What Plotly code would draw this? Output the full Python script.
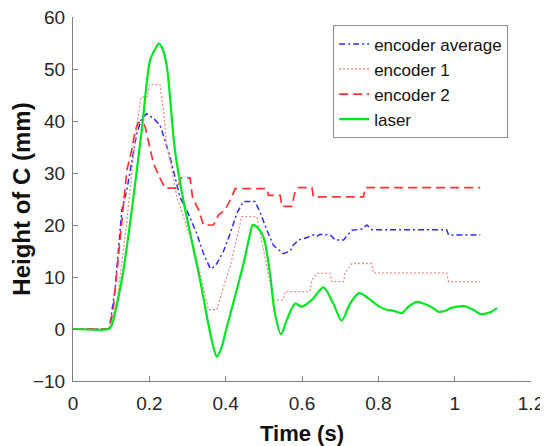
import plotly.graph_objects as go

# ---- data ----
t_avg = [0, 0.095, 0.110, 0.128, 0.141, 0.154, 0.167, 0.180, 0.193, 0.211, 0.228, 0.241, 0.254,
         0.267, 0.280, 0.302, 0.324, 0.342, 0.359, 0.364, 0.377, 0.394, 0.412, 0.429, 0.446,
         0.477, 0.490, 0.508, 0.525, 0.551, 0.569, 0.577, 0.591, 0.613, 0.630, 0.639, 0.647,
         0.674, 0.687, 0.709, 0.717, 0.731, 0.757, 0.770, 0.783, 0.979, 0.984, 1.067]
y_avg = [0, 0, 7.5, 22.9, 26.7, 32.5, 37.6, 40.5, 41.4, 40.5, 39.2, 36.3, 33.1,
         29.3, 25.4, 22.2, 18.4, 14.5, 11.7, 11.6, 12.6, 14.9, 18.4, 22.2, 24.5,
         24.5, 22.5, 19.0, 16.1, 14.5, 15.0, 16.1, 17.1, 17.6, 18.1, 17.8, 18.2,
         18.1, 17.1, 17.1, 17.9, 19.0, 19.2, 20.0, 19.1, 19.1, 18.1, 18.1]

t_enc1 = [0, 0.095, 0.115, 0.140, 0.165, 0.178, 0.195, 0.200, 0.228, 0.237, 0.246, 0.254,
          0.272, 0.289, 0.307, 0.324, 0.342, 0.355, 0.377, 0.394, 0.412, 0.429, 0.442,
          0.482, 0.490, 0.508, 0.525, 0.551, 0.556, 0.621, 0.626, 0.639, 0.674, 0.678,
          0.709, 0.713, 0.731, 0.783, 0.787, 0.979, 0.984, 1.067]
y_enc1 = [0, 0, 5, 20, 38, 44.6, 44.6, 47, 47, 42, 35, 32.5,
          25.4, 21.6, 17.7, 13.3, 7.5, 3.7, 3.7, 8.0, 12.0, 17.7, 21.6,
          21.6, 18.4, 12.0, 5.6, 5.6, 7.2, 7.2, 9.4, 10.7, 10.7, 9.1,
          9.1, 10.8, 12.6, 12.6, 10.8, 10.8, 9.1, 9.1]

t_enc2 = [0, 0.095, 0.106, 0.132, 0.141, 0.154, 0.163, 0.171, 0.184, 0.189, 0.202, 0.211,
          0.228, 0.241, 0.276, 0.281, 0.307, 0.313, 0.329, 0.342, 0.368, 0.381, 0.398,
          0.412, 0.425, 0.508, 0.512, 0.543, 0.547, 0.573, 0.582, 0.591, 0.626, 0.630,
          0.761, 0.766, 1.067]
y_enc2 = [0, 0, 4.3, 23.8, 30.5, 34.4, 38.2, 39.7, 39.7, 38.9, 34.4, 31.8,
          29.0, 27.1, 27.1, 29.0, 29.0, 25.4, 22.9, 20.0, 20.0, 21.9, 22.9,
          24.8, 27.0, 27.0, 25.7, 25.7, 23.6, 23.6, 26.4, 27.2, 27.2, 25.4,
          25.4, 27.2, 27.2]

t_laser = [0, 0.093, 0.100, 0.110, 0.132, 0.156, 0.180, 0.202, 0.215, 0.225, 0.235, 0.246,
           0.267, 0.289, 0.311, 0.333, 0.354, 0.368, 0.377, 0.388, 0.403, 0.429, 0.451,
           0.463, 0.471, 0.482, 0.499, 0.516, 0.529, 0.545, 0.560,
           0.582, 0.599, 0.626, 0.656, 0.682, 0.704, 0.726, 0.750, 0.774, 0.805, 0.822,
           0.840, 0.862, 0.879, 0.901, 0.918, 0.940, 0.958, 0.975, 0.993, 1.023, 1.049,
           1.067, 1.093, 1.111]
y_laser = [0, 0, 0.5, 3.1, 11.3, 24.0, 38.2, 51.7, 53.8, 54.9, 53.8, 50.4,
           34.4, 24.8, 17.0, 9.4, 1.2, -3.5, -5.3, -3.8, 0.4, 7.5, 13.9,
           18.0, 20.0, 19.6, 17.7, 10.7, 3.0, -1.0, 1.7,
           4.9, 4.3, 5.6, 8.0, 4.9, 1.6, 4.9, 6.9, 5.9, 4.2, 3.7,
           3.5, 3.1, 4.3, 5.2, 4.9, 4.2, 3.3, 3.5, 4.1, 4.4, 3.7,
           2.9, 3.2, 4.0]

x_ticks = [0, 0.2, 0.4, 0.6, 0.8, 1.0, 1.2]
x_tick_text = ["0", "0.2", "0.4", "0.6", "0.8", "1", "1.2"]
y_ticks = [-10, 0, 10, 20, 30, 40, 50, 60]

fig = go.Figure()
fig.add_trace(go.Scatter(x=t_avg, y=y_avg, mode="lines", name="encoder average",
                         line=dict(color="#2b2bff", width=1.5, dash="6px,3px,2px,3px")))
fig.add_trace(go.Scatter(x=t_enc1, y=y_enc1, mode="lines", name="encoder 1",
                         line=dict(color="#f08a8a", width=1.3, dash="2px,2px")))
fig.add_trace(go.Scatter(x=t_enc2, y=y_enc2, mode="lines", name="encoder 2",
                         line=dict(color="#ff3333", width=1.7, dash="9px,5px")))
fig.add_trace(go.Scatter(x=t_laser, y=y_laser, mode="lines", name="laser",
                         line=dict(color="#00e620", width=2.2, shape="spline", smoothing=0.8)))

FONT = "Liberation Sans, Arial, sans-serif"
axis_font = dict(family=FONT, size=19, color="#262626")

# the page body has an 8px margin, so the figure is sized 540x438 to fit the window
fig.update_layout(
    width=540, height=438,
    margin=dict(l=65, r=17, t=9, b=65),
    paper_bgcolor="white", plot_bgcolor="white",
    showlegend=True,
    legend=dict(x=0.568, y=0.977, xanchor="left", yanchor="top",
                bordercolor="#8c8c8c", borderwidth=1, bgcolor="white",
                font=dict(family=FONT, size=17, color="#111111"),
                tracegroupgap=0, itemwidth=30),
    xaxis=dict(range=[0, 1.2], tickvals=x_ticks, ticktext=x_tick_text,
               showgrid=False, zeroline=False, showline=True, linecolor="#808080",
               linewidth=1, ticks="inside", ticklen=5, tickcolor="#808080",
               tickfont=axis_font, automargin=False, ticklabelstandoff=5,
               ticklabeloverflow="allow",
               title=dict(text="<b>Time (s)</b>", font=dict(family=FONT, size=22, color="#111111"),
                          standoff=12)),
    yaxis=dict(range=[-10, 60], tickvals=y_ticks,
               showgrid=False, zeroline=False, showline=True, linecolor="#808080",
               linewidth=1, ticks="inside", ticklen=5, tickcolor="#808080",
               tickfont=axis_font, automargin=False, ticklabelstandoff=3,
               ticklabeloverflow="allow",
               title=dict(text="<b>Height of C (mm)</b>", font=dict(family=FONT, size=24, color="#111111"),
                          standoff=3)),
)

fig.write_html("out.html")
